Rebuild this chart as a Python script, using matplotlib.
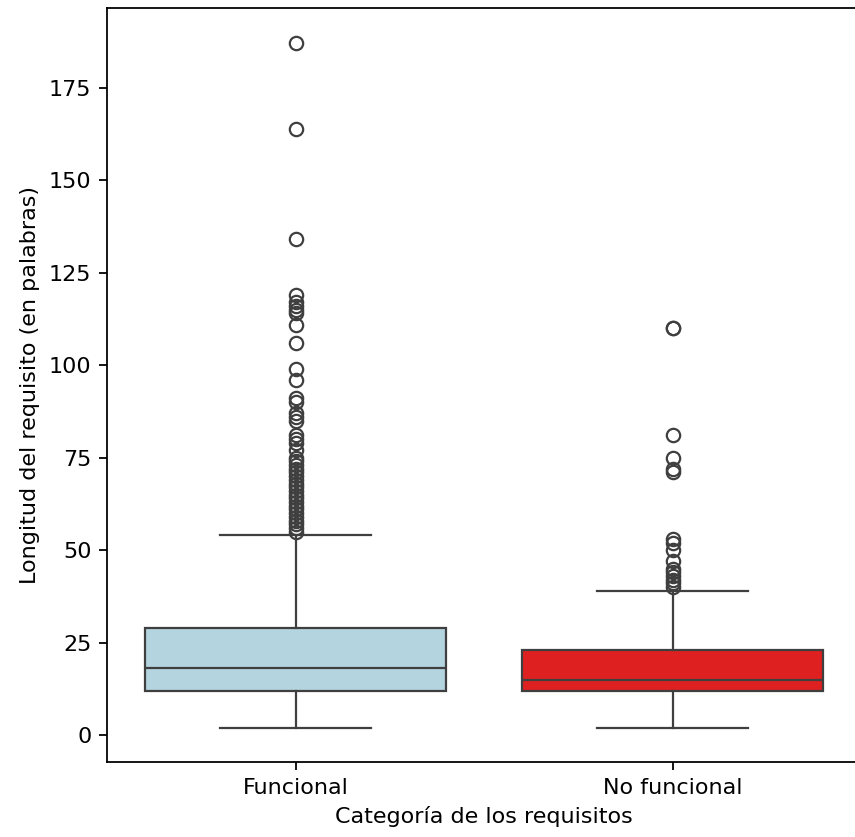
import colorsys
import matplotlib
matplotlib.use("Agg")
import matplotlib.pyplot as plt
import matplotlib.colors as mcolors

# Categorias y estadisticos (palabras por requisito)
categorias = ["Funcional", "No funcional"]
q1 = [12, 12]
mediana = [18, 15]
q3 = [29, 23]
bigote_inf = [2, 2]
bigote_sup = [54, 39]
outliers_func = [187, 164, 134, 119, 117, 116, 115, 114, 111, 106, 99, 96,
                 91, 90, 87, 86, 85, 81, 80, 79, 77, 75, 74, 73, 72, 71, 70,
                 69, 68, 67, 66, 65, 64, 63, 62, 61, 60, 59, 58, 57, 56, 55]
outliers_nofunc = [110, 110, 81, 75, 72, 71, 53, 52, 50, 47, 45, 44, 43, 42,
                   41, 40]
colores = ["lightblue", "red"]


def desaturar(color, prop=0.75):
    # igual que seaborn: baja la saturacion en espacio HLS
    r, g, b = mcolors.to_rgb(color)
    h, l, s = colorsys.rgb_to_hls(r, g, b)
    return colorsys.hls_to_rgb(h, l, s * prop)


stats = []
for i in range(len(categorias)):
    stats.append({
        "label": categorias[i],
        "q1": q1[i], "med": mediana[i], "q3": q3[i],
        "whislo": bigote_inf[i], "whishi": bigote_sup[i],
        "fliers": [outliers_func, outliers_nofunc][i],
    })

DPI = 160
fig = plt.figure(figsize=(855 / DPI, 837 / DPI), dpi=DPI)
ax = fig.add_subplot()
fig.subplots_adjust(left=107 / 855, right=861 / 855, top=1 - 8 / 837,
                    bottom=1 - 762 / 837)

gris = "#3f3f3f"
lw = 1.0
bp = ax.bxp(stats, positions=[0, 1], widths=0.8, patch_artist=True,
            boxprops=dict(edgecolor=gris, linewidth=lw),
            medianprops=dict(color=gris, linewidth=lw),
            whiskerprops=dict(color=gris, linewidth=lw),
            capprops=dict(color=gris, linewidth=lw),
            flierprops=dict(marker="o", markerfacecolor="none",
                            markeredgecolor=gris, markersize=6,
                            markeredgewidth=lw))
for caja, c in zip(bp["boxes"], colores):
    caja.set_facecolor(desaturar(c))
for cap in bp["caps"]:
    x0, x1 = cap.get_xdata()
    m = (x0 + x1) / 2
    cap.set_xdata([m - 0.2, m + 0.2])

ax.set_xlim(-0.5, 1.5)
ax.set_ylim(-7.3, 196.6)
ax.set_xlabel("Categoría de los requisitos")
ax.set_ylabel("Longitud del requisito (en palabras)")

fig.savefig("out.png", dpi=DPI)
